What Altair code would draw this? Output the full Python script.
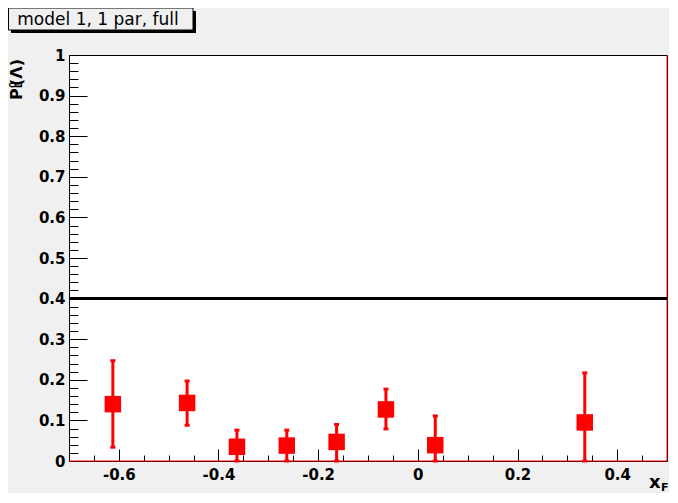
import altair as alt
import pandas as pd

# ---- data ----
x_vals = [-0.612, -0.463, -0.363, -0.263, -0.163, -0.064, 0.035, 0.335]
y_vals = [0.140, 0.143, 0.035, 0.038, 0.047, 0.127, 0.039, 0.095]
y_lo = [0.034, 0.088, 0.0, 0.0, 0.0, 0.079, 0.0, 0.0]
y_hi = [0.247, 0.197, 0.076, 0.076, 0.090, 0.177, 0.111, 0.217]
ref_line = [0.4]

x_major = [-0.6, -0.4, -0.2, 0.0, 0.2, 0.4]
x_minor = [-0.65, -0.6, -0.55, -0.5, -0.45, -0.4, -0.35, -0.3, -0.25, -0.2, -0.15,
           -0.1, -0.05, 0.0, 0.05, 0.1, 0.15, 0.2, 0.25, 0.3, 0.35, 0.4, 0.45]
y_major = [0.0, 0.1, 0.2, 0.3, 0.4, 0.5, 0.6, 0.7, 0.8, 0.9, 1.0]
y_minor = [round(i * 0.02, 2) for i in range(51)]

title_text = "model 1, 1 par, full"
x_domain = [-0.7, 0.5]
y_domain = [0.0, 1.0]

df = pd.DataFrame({"x": x_vals, "y": y_vals, "lo": y_lo, "hi": y_hi})

RED = "#ff0000"
FONT = "DejaVu Sans"
lab_expr = "(datum.value < 0 ? '-' : '') + format(abs(datum.value), '~g')"

xs = alt.Scale(domain=x_domain, nice=False, zero=False)
ys = alt.Scale(domain=y_domain, nice=False, zero=False)

def label_axis(orient, values, pad):
    return alt.Axis(orient=orient, values=values, labelExpr=lab_expr, tickSize=0,
                    labelPadding=pad, domain=True, domainColor="black", domainWidth=1,
                    grid=False, title=None, labelFont=FONT, labelFontWeight="bold",
                    labelFontSize=15, labelColor="black", labelFlush=False,
                    labelOverlap=False)

def tick_axis(orient, values, length):
    return alt.Axis(orient=orient, values=values, offset=-length, tickSize=length,
                    tickColor="black", tickWidth=1, labels=False, domain=False,
                    grid=False, title=None)

squares = alt.Chart(df).mark_square(size=272, filled=True, opacity=1, color=RED).encode(
    x=alt.X("x:Q", scale=xs, axis=label_axis("bottom", x_major, 6)),
    y=alt.Y("y:Q", scale=ys, axis=label_axis("left", y_major, 4)),
)

errs = alt.Chart(df).mark_rule(strokeWidth=3, color=RED).encode(
    x=alt.X("x:Q", scale=xs, axis=tick_axis("bottom", x_major, 12)),
    y=alt.Y("lo:Q", scale=ys, axis=tick_axis("left", y_major, 18)),
    y2="hi:Q",
)

caps_hi = alt.Chart(df).mark_tick(orient="horizontal", size=5, thickness=3, color=RED, opacity=1).encode(
    x=alt.X("x:Q", scale=xs, axis=tick_axis("bottom", x_minor, 6)),
    y=alt.Y("hi:Q", scale=ys, axis=tick_axis("left", y_minor, 9)),
)

caps_lo = alt.Chart(df).mark_tick(orient="horizontal", size=5, thickness=3, color=RED, opacity=1).encode(
    x=alt.X("x:Q", scale=xs, axis=None),
    y=alt.Y("lo:Q", scale=ys, axis=None),
)

hline = alt.Chart(pd.DataFrame({"v": ref_line})).mark_rule(strokeWidth=3, color="black").encode(
    y=alt.Y("v:Q", scale=ys, axis=None),
)

frame_r = alt.Chart(pd.DataFrame({"v": [x_domain[1]]})).mark_rule(strokeWidth=1, color=RED).encode(
    x=alt.X("v:Q", scale=xs, axis=None),
)

frame_b = alt.Chart(pd.DataFrame({"v": [y_domain[0]]})).mark_rule(strokeWidth=1, color=RED).encode(
    y=alt.Y("v:Q", scale=ys, axis=None),
)

one = pd.DataFrame({"t": [title_text]})

shadow = alt.Chart(one).mark_rect(color="black").encode(
    x=alt.value(-58), x2=alt.value(127), y=alt.value(-44), y2=alt.value(-22))
box = alt.Chart(one).mark_rect(fill="#f0f0f0", stroke="black", strokeWidth=1).encode(
    x=alt.value(-60.5), x2=alt.value(124), y=alt.value(-47), y2=alt.value(-25))
title = alt.Chart(one).mark_text(font=FONT, fontSize=17, color="black", align="center",
                                 baseline="middle").encode(
    text="t:N", x=alt.value(29), y=alt.value(-35))

def txt(s, x, y, size, align="left", angle=0):
    return alt.Chart(pd.DataFrame({"t": [s]})).mark_text(
        font=FONT, fontSize=size, fontWeight="bold", color="black", align=align,
        baseline="alphabetic", angle=angle).encode(text="t:N", x=alt.value(x), y=alt.value(y))

ytitle = [
    txt("P", -47, 45, 16, angle=270),
    txt("0", -53, 33, 9, angle=270),
    txt("L", -47.5, 33, 9, angle=270),
    txt("(\u039b)", -47, 31, 16, angle=270),
]
xtitle = [
    txt("x", 580, 433, 18),
    txt("F", 592, 436, 11),
]

chart = alt.layer(
    frame_r, frame_b, hline, errs, caps_hi, caps_lo, squares,
    shadow, box, title, *ytitle, *xtitle,
).resolve_axis(x="independent", y="independent").properties(
    width=598, height=406,
    padding={"left": 61, "top": 47, "right": 2, "bottom": 32},
    autosize=alt.AutoSizeParams(type="none"),
    background="#f0f0f0",
).configure_view(stroke="black", strokeWidth=1, fill="white")

chart.save("out.html", embed_options={"renderer": "svg", "actions": False})
